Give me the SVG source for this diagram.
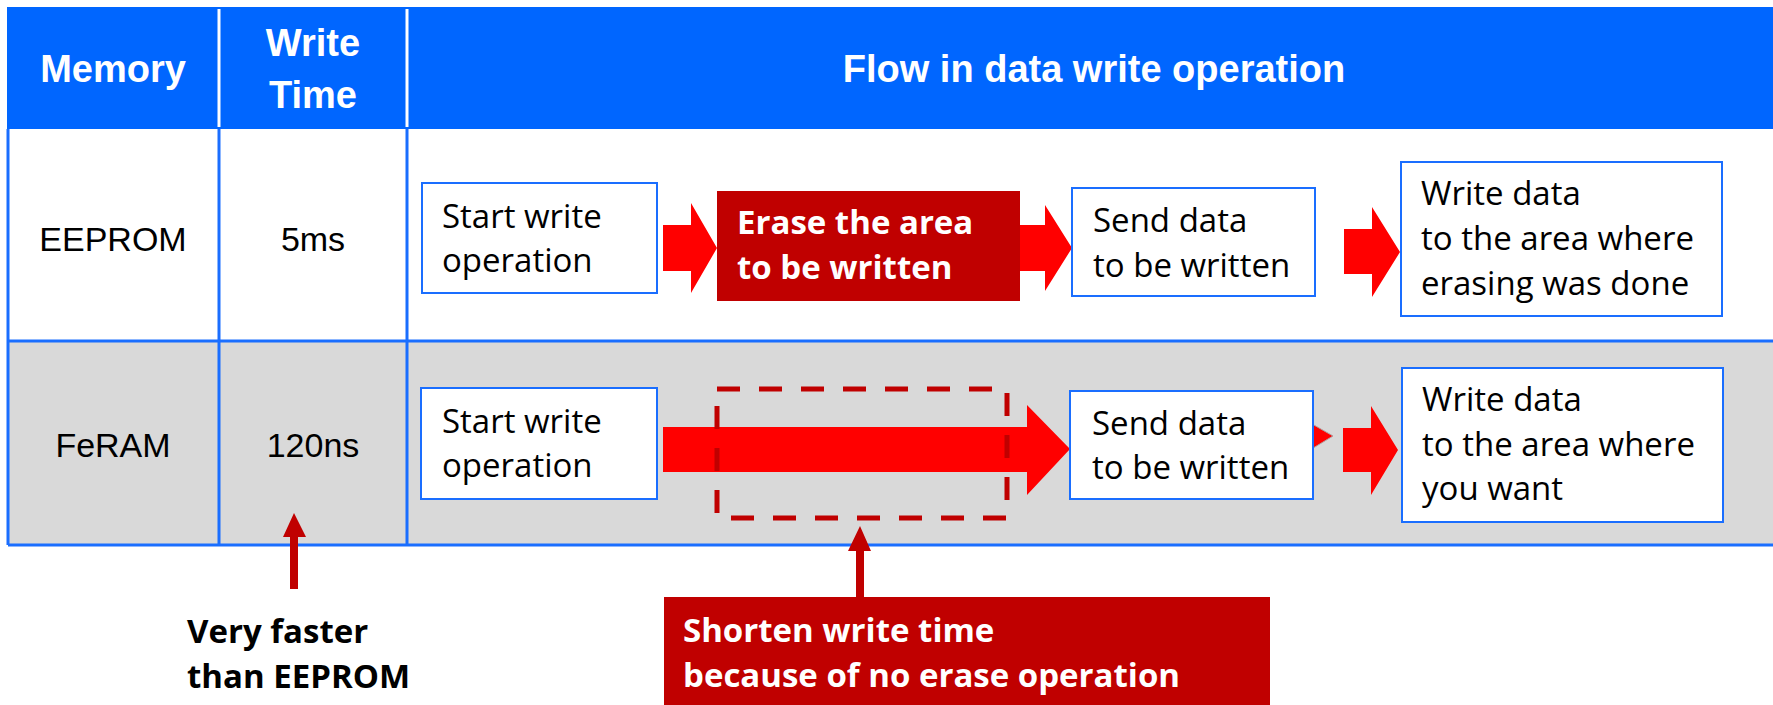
<svg xmlns="http://www.w3.org/2000/svg" width="1773" height="705" viewBox="0 0 1773 705">
<style>
.hdr{font-family:"Liberation Sans",Arial,sans-serif;font-weight:bold;font-size:38px;fill:#fff;text-anchor:middle}
.cell{font-family:"Liberation Sans",Arial,sans-serif;font-size:34px;fill:#000;text-anchor:middle}
.box{fill:#fff;stroke:#1a6eff;stroke-width:2}
.bt{font-family:"Open Sans",sans-serif;font-size:33px;fill:#000}
.wb{font-family:"Open Sans",sans-serif;font-size:33px;font-weight:bold;fill:#fff}
.kb{font-family:"Open Sans",sans-serif;font-size:33px;font-weight:bold;fill:#000}
.grid{stroke:#1a6eff;stroke-width:3;fill:none}
.arr{fill:#ff0000}
.darr{fill:#c00000}
</style>
<g id="table">
<rect x="7" y="7" width="1766" height="122" fill="#0066ff"/>
<rect x="8" y="129" width="1765" height="212" fill="#fff"/>
<rect x="8" y="341" width="1765" height="204" fill="#d9d9d9"/>
<line x1="219" y1="9" x2="219" y2="127" stroke="#fff" stroke-width="3"/>
<line x1="407" y1="9" x2="407" y2="127" stroke="#fff" stroke-width="3"/>
<path class="grid" d="M8 129V545M219 129V545M407 129V545M8 341H1773M8 545H1773"/>
<text class="hdr" x="113" y="82">Memory</text>
<text class="hdr" x="313" y="56">Write</text>
<text class="hdr" x="313" y="108">Time</text>
<text class="hdr" x="1094" y="82">Flow in data write operation</text>
<text class="cell" x="113" y="251">EEPROM</text>
<text class="cell" x="313" y="251">5ms</text>
<text class="cell" x="113" y="457">FeRAM</text>
<text class="cell" x="313" y="457">120ns</text>
</g>
<g id="connectors">
<polygon class="arr" points="663,225 691,225 691,203 717,248 691,293 691,271 663,271"/>
<polygon class="arr" points="1020,225 1045,225 1045,205 1072,248 1045,291 1045,271 1020,271"/>
<polygon class="arr" points="1344,229 1372,229 1372,207 1400,252 1372,297 1372,274 1344,274"/>
<polygon class="arr" points="663,427 1027,427 1027,405 1070,449 1027,495 1027,472 663,472"/>
<polygon class="arr" points="1300,417 1333,436 1300,456" stroke="#b0a0a0" stroke-width="1"/>
<polygon class="arr" points="1343,428 1371,428 1371,406 1398,450 1371,495 1371,472 1343,472"/>
<polygon class="darr" points="290,589 298,589 298,537 306,537 294,513 283,537 290,537"/>
<polygon class="darr" points="856,597 864,597 864,551 871,551 860,526 848,551 856,551"/>
</g>
<g id="n-ee-start">
<rect class="box" x="422" y="183" width="235" height="110"/>
<text class="bt" x="442" y="228">Start write</text>
<text class="bt" x="442" y="272">operation</text>
</g>
<g id="n-ee-erase">
<rect x="717" y="191" width="303" height="110" fill="#c00000"/>
<text class="wb" x="737" y="234">Erase the area</text>
<text class="wb" x="737" y="279">to be written</text>
</g>
<g id="n-ee-send">
<rect class="box" x="1072" y="188" width="243" height="108"/>
<text class="bt" x="1093" y="232">Send data</text>
<text class="bt" x="1093" y="277">to be written</text>
</g>
<g id="n-ee-write">
<rect class="box" x="1401" y="162" width="321" height="154"/>
<text class="bt" x="1421" y="205">Write data</text>
<text class="bt" x="1421" y="250">to the area where</text>
<text class="bt" x="1421" y="295">erasing was done</text>
</g>
<g id="n-fe-start">
<rect class="box" x="421" y="388" width="236" height="111"/>
<text class="bt" x="442" y="433">Start write</text>
<text class="bt" x="442" y="477">operation</text>
</g>
<g id="n-fe-skip">
<rect x="717" y="389" width="290" height="129" fill="none" stroke="#c00000" stroke-width="5" stroke-dasharray="23 19"/>
</g>
<g id="n-fe-send">
<rect class="box" x="1070" y="391" width="243" height="108"/>
<text class="bt" x="1092" y="435">Send data</text>
<text class="bt" x="1092" y="479">to be written</text>
</g>
<g id="n-fe-write">
<rect class="box" x="1402" y="368" width="321" height="154"/>
<text class="bt" x="1422" y="411">Write data</text>
<text class="bt" x="1422" y="456">to the area where</text>
<text class="bt" x="1422" y="500">you want</text>
</g>
<g id="n-note-fast">
<text class="kb" x="187" y="643">Very faster</text>
<text class="kb" x="187" y="688">than EEPROM</text>
</g>
<g id="n-note-short">
<rect x="664" y="597" width="606" height="110" fill="#c00000"/>
<text class="wb" x="683" y="642">Shorten write time</text>
<text class="wb" x="683" y="687">because of no erase operation</text>
</g>
</svg>
